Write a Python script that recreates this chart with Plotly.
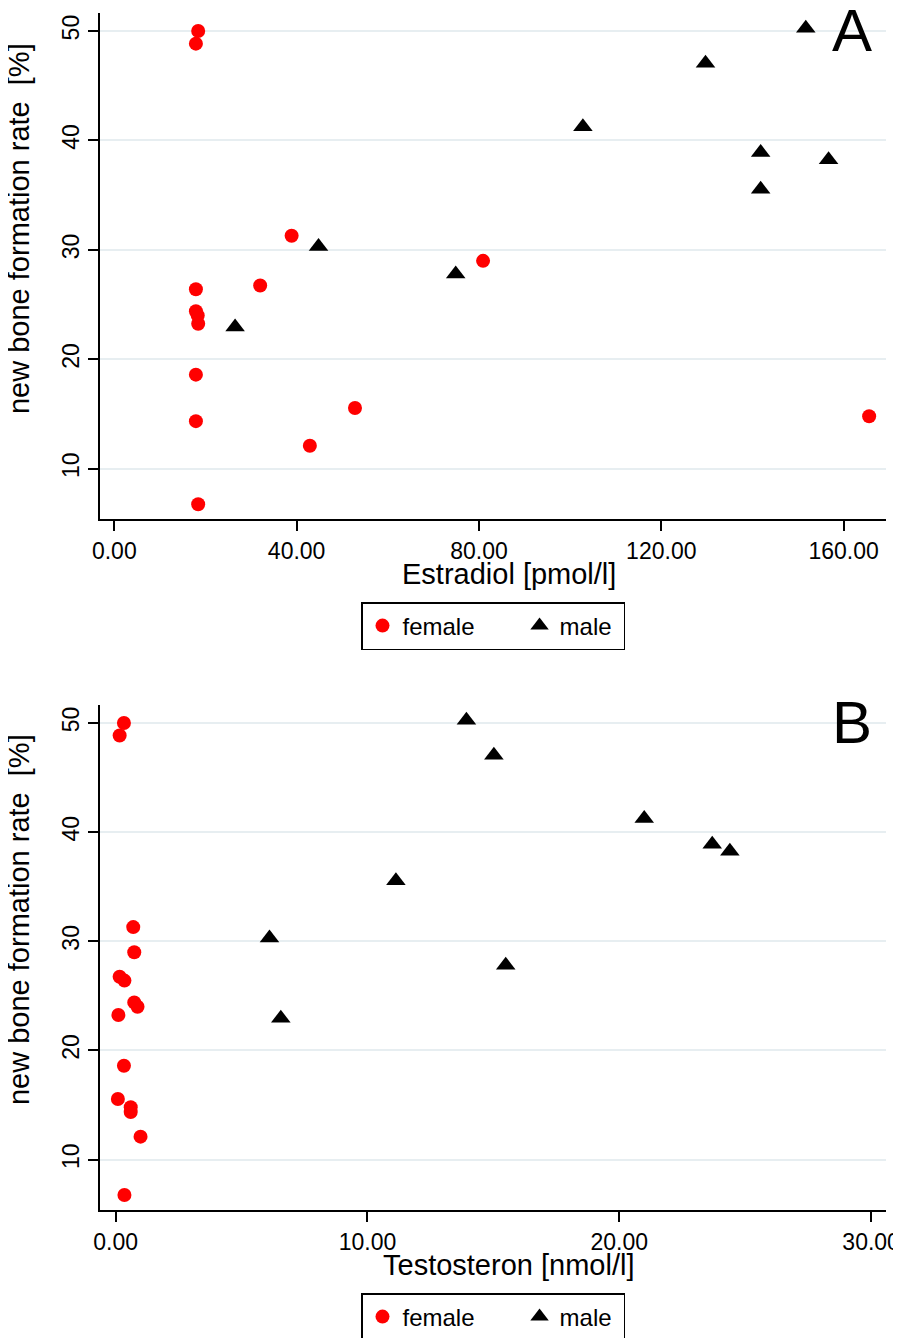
import plotly.graph_objects as go

# ---- data ----
female_rate = [50.0, 48.85, 31.3, 29.0, 26.75, 26.4, 24.4, 24.0, 23.25, 18.6, 15.55, 14.8, 14.35, 12.1, 6.75]
female_estradiol = [18.4, 17.9, 38.9, 80.9, 32.0, 17.9, 17.9, 18.3, 18.4, 17.9, 52.8, 165.6, 17.9, 42.9, 18.4]
female_testosteron = [0.33, 0.16, 0.70, 0.74, 0.16, 0.35, 0.74, 0.87, 0.11, 0.33, 0.09, 0.60, 0.60, 0.99, 0.35]

male_rate = [50.25, 47.05, 41.25, 38.9, 38.25, 35.55, 30.3, 27.8, 22.95]
male_estradiol = [151.7, 129.7, 102.8, 141.8, 156.7, 141.8, 44.8, 74.9, 26.5]
male_testosteron = [13.93, 15.02, 20.99, 23.69, 24.39, 11.13, 6.11, 15.49, 6.56]

groups = ["female", "male"]
x_titles = ["Estradiol [pmol/l]", "Testosteron [nmol/l]"]
y_title = "new bone formation rate\u00a0\u00a0[%]"
panel_labels = ["A", "B"]

FONT = "Liberation Sans, Arial, Helvetica, sans-serif"
RED = "#ff0000"
GRID = "#e7eef1"
PAD = "\u00a0" * 6  # spacing between legend entries

# The page body has an 8px default margin; offset the figure so the plot sits where the reference has it.
BODY = 8
W = 901 - BODY
PLOT_H = 1197
TOP = 13 - BODY
BOTTOM = 178
H = TOP + PLOT_H + BOTTOM

fig = go.Figure()

# Panel A
fig.add_trace(go.Scatter(x=female_estradiol, y=female_rate, mode="markers", name=groups[0] + PAD,
                         marker=dict(symbol="circle", size=14, color=RED),
                         xaxis="x", yaxis="y", legend="legend"))
fig.add_trace(go.Scatter(x=male_estradiol, y=male_rate, mode="markers", name=groups[1] + "\u00a0",
                         marker=dict(symbol="triangle-up", size=17, color="black"),
                         xaxis="x", yaxis="y", legend="legend"))
# Panel B
fig.add_trace(go.Scatter(x=female_testosteron, y=female_rate, mode="markers", name=groups[0] + PAD,
                         marker=dict(symbol="circle", size=14, color=RED),
                         xaxis="x2", yaxis="y2", legend="legend2"))
fig.add_trace(go.Scatter(x=male_testosteron, y=male_rate, mode="markers", name=groups[1] + "\u00a0",
                         marker=dict(symbol="triangle-up", size=17, color="black"),
                         xaxis="x2", yaxis="y2", legend="legend2"))

xcommon = dict(showline=True, linecolor="black", linewidth=2, ticks="outside", ticklen=10,
               tickwidth=2, tickcolor="black", showgrid=False, zeroline=False, automargin=False,
               tickformat=".2f",
               tickfont=dict(family=FONT, size=23, color="black"))
ycommon = dict(showline=True, linecolor="black", linewidth=2, ticks="outside", ticklen=10,
               tickwidth=2, tickcolor="black", showgrid=True, gridcolor=GRID, gridwidth=2,
               zeroline=False, automargin=False, tick0=0, dtick=10, range=[5.38, 51.65],
               tickangle=-90, tickfont=dict(family=FONT, size=23, color="black"))

legcommon = dict(orientation="h", xanchor="center", x=0.5, yanchor="top",
                 bordercolor="black", borderwidth=1.5, bgcolor="white",
                 font=dict(family=FONT, size=24, color="black"), itemsizing="trace")

def py(page_y):
    """paper y for a page pixel row"""
    return 1 - (page_y - BODY - TOP) / PLOT_H

fig.update_layout(
    width=W, height=H,
    margin=dict(l=100 - BODY, r=15, t=TOP, b=BOTTOM),
    paper_bgcolor="white", plot_bgcolor="white",
    font=dict(family=FONT, color="black"),
    xaxis=dict(domain=[0, 1], anchor="y", range=[-3.14, 169.3], tick0=0, dtick=40, **xcommon),
    yaxis=dict(domain=[py(519.3), 1.0], anchor="x", **ycommon),
    xaxis2=dict(domain=[0, 1], anchor="y2", range=[-0.62, 30.59], tick0=0, dtick=10, **xcommon),
    yaxis2=dict(domain=[0, py(705)], anchor="x2", **ycommon),
    legend=dict(y=py(602), **legcommon),
    legend2=dict(y=py(1293), **legcommon),
    showlegend=True,
)

annots = []
# x titles
for title, yp in zip(x_titles, [574, 1265]):
    annots.append(dict(text=title, xref="paper", yref="paper", x=0.520, y=py(yp),
                       xanchor="center", yanchor="middle", showarrow=False,
                       font=dict(family=FONT, size=29, color="black")))
# y titles
for yp in [229, 920]:
    annots.append(dict(text=y_title, xref="paper", yref="paper", x=-0.103, y=py(yp),
                       xanchor="center", yanchor="middle", textangle=-90, showarrow=False,
                       font=dict(family=FONT, size=29, color="black")))
# panel letters
for lab, yp in zip(panel_labels, [-5, 687]):
    annots.append(dict(text=lab, xref="paper", yref="paper", x=0.957, y=py(yp),
                       xanchor="center", yanchor="top", showarrow=False,
                       font=dict(family=FONT, size=60, color="black")))
fig.update_layout(annotations=annots)

fig.write_html("out.html")
